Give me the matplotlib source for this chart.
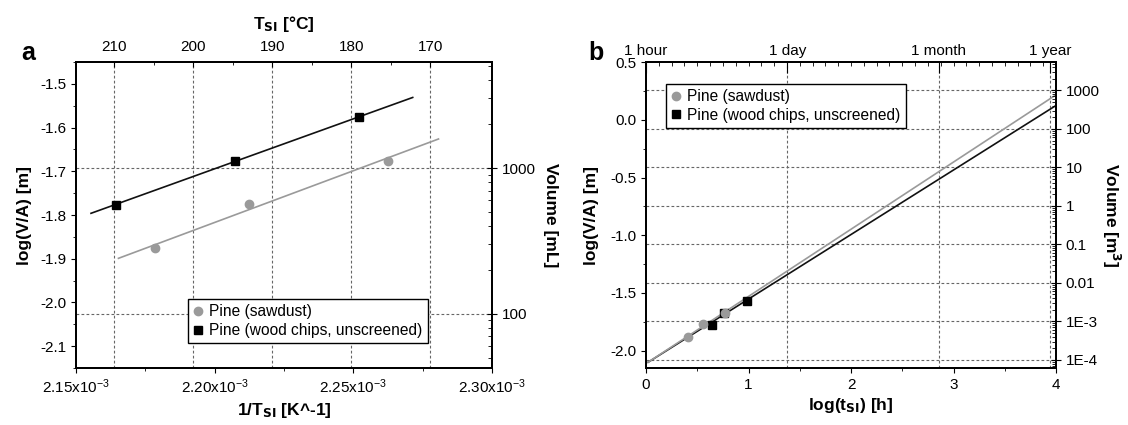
"""
Two-panel figure: self-ignition volume scaling for pine (sawdust vs wood chips).
a) log(V/A) against inverse self-ignition temperature.
b) log(V/A) against log of induction time.
"""

import matplotlib.pyplot as plt
import numpy as np
from matplotlib.ticker import FixedLocator, MultipleLocator, NullFormatter

plt.rcParams["font.family"] = ["Liberation Sans", "DejaVu Sans"]
plt.rcParams["axes.unicode_minus"] = False
plt.rcParams["mathtext.default"] = "regular"

# ---- panel a data -------------------------------------------------------
A_SAW_X = [2.1785e-3, 2.2124e-3, 2.2624e-3]
A_SAW_Y = [-1.876, -1.775, -1.676]
A_WOOD_X = [2.1644e-3, 2.2072e-3, 2.2521e-3]
A_WOOD_Y = [-1.776, -1.676, -1.576]
A_SAW_FIT_X = [2.1653e-3, 2.2807e-3]
A_SAW_FIT_Y = [-1.899, -1.626]
A_WOOD_FIT_X = [2.1554e-3, 2.2714e-3]
A_WOOD_FIT_Y = [-1.796, -1.531]
A_X_TICKS = [2.15e-3, 2.20e-3, 2.25e-3, 2.30e-3]
A_X_LABELS = ["2.15x10$^{-3}$", "2.20x10$^{-3}$", "2.25x10$^{-3}$", "2.30x10$^{-3}$"]
A_Y_TICKS = [-2.1, -2.0, -1.9, -1.8, -1.7, -1.6, -1.5]
A_T_TICKS = [210, 200, 190, 180, 170]
A_VOL_TICKS = [100, 1000]

# ---- panel b data -------------------------------------------------------
B_SAW_X = [0.41, 0.555, 0.767]
B_SAW_Y = [-1.878, -1.770, -1.674]
B_WOOD_X = [0.64, 0.76, 0.984]
B_WOOD_Y = [-1.776, -1.676, -1.573]
B_SAW_FIT_X = [0.02, 4.0]
B_SAW_FIT_Y = [-2.10, 0.216]
B_WOOD_FIT_X = [0.02, 4.0]
B_WOOD_FIT_Y = [-2.10, 0.124]
B_Y_TICKS = [-2.0, -1.5, -1.0, -0.5, 0.0, 0.5]
B_TIME_HOURS = [1, 24, 720, 8760]
B_TIME_LABELS = ["1 hour", "1 day", "1 month", "1 year"]
B_VOL_TICKS = [1e-4, 1e-3, 1e-2, 1e-1, 1, 10, 100, 1000]
B_VOL_LABELS = ["1E-4", "1E-3", "0.01", "0.1", "1", "10", "100", "1000"]

GRAY = "#9a9a9a"
GRID = dict(color="#666666", lw=0.8, ls=(0, (2.5, 2)), zorder=0)
BOLD = dict(fontsize=12.5, fontweight="bold")


# temperature axis of panel a is linear in 1/T position
def temp_to_x(t):
    return 2.1638e-3 + (210 - np.asarray(t, dtype=float)) * 2.85e-6


def a_vol(y):
    return 10 ** (3 * (np.asarray(y) + 1.6924) + 3)


def a_vol_inv(v):
    return (np.log10(v) - 3) / 3 - 1.6924


def b_vol(y):
    return 10 ** (3 * (np.asarray(y) + 0.746))


def b_vol_inv(v):
    return np.log10(v) / 3 - 0.746


def legend(ax, handles, labels, **kw):
    leg = ax.legend(handles, labels, fontsize=11.2, handlelength=0.6,
                    handletextpad=0.4, borderpad=0.35, labelspacing=0.25,
                    fancybox=False, framealpha=1, edgecolor="black", **kw)
    leg.get_frame().set_linewidth(1.0)


def panel_a(ax):
    ax.plot(A_WOOD_FIT_X, A_WOOD_FIT_Y, color="#111111", lw=1.2, zorder=2)
    ax.plot(A_SAW_FIT_X, A_SAW_FIT_Y, color=GRAY, lw=1.2, zorder=2)
    saw, = ax.plot(A_SAW_X, A_SAW_Y, "o", color=GRAY, ms=6, zorder=3)
    wood, = ax.plot(A_WOOD_X, A_WOOD_Y, "s", color="black", ms=6, zorder=3)

    ax.set_xlim(2.15e-3, 2.30e-3)
    ax.set_ylim(-2.15, -1.45)
    ax.set_xticks(A_X_TICKS)
    ax.set_xticklabels(A_X_LABELS)
    ax.xaxis.set_minor_locator(MultipleLocator(0.025e-3))
    ax.set_yticks(A_Y_TICKS)
    ax.set_yticklabels([f"{v:.1f}" for v in A_Y_TICKS])
    ax.yaxis.set_minor_locator(MultipleLocator(0.05))
    ax.tick_params(which="both", direction="out", top=False, right=False)
    ax.set_xlabel(r"1/T$_\mathbf{SI}$ [K^-1]", labelpad=3, **BOLD)
    ax.set_ylabel("log(V/A) [m]", labelpad=6, **BOLD)

    for x in temp_to_x(A_T_TICKS):
        ax.axvline(x, **GRID)
    for v in A_VOL_TICKS:
        ax.axhline(a_vol_inv(v), **GRID)

    top = ax.twiny()
    top.set_xlim(ax.get_xlim())
    top.set_xticks(temp_to_x(A_T_TICKS))
    top.set_xticklabels([str(t) for t in A_T_TICKS])
    top.xaxis.set_minor_locator(FixedLocator(temp_to_x(np.arange(215, 165, -10))))
    top.tick_params(which="both", direction="in", pad=6)
    top.set_xlabel(r"T$_\mathbf{SI}$ [°C]", labelpad=8, **BOLD)

    right = ax.twinx()
    right.set_yscale("log")
    right.set_ylim(a_vol(-2.15), a_vol(-1.45))
    right.set_yticks(A_VOL_TICKS)
    right.set_yticklabels([str(v) for v in A_VOL_TICKS])
    right.yaxis.set_minor_formatter(NullFormatter())
    right.tick_params(which="major", direction="inout", length=7)
    right.tick_params(which="minor", direction="in", length=3)
    right.set_ylabel("Volume [mL]", rotation=270, labelpad=16, **BOLD)

    legend(ax, [saw, wood], ["Pine (sawdust)", "Pine (wood chips, unscreened)"],
           loc="lower left", bbox_to_anchor=(0.25, 0.055))


def panel_b(ax):
    ax.plot(B_WOOD_FIT_X, B_WOOD_FIT_Y, color="#111111", lw=1.2, zorder=2)
    ax.plot(B_SAW_FIT_X, B_SAW_FIT_Y, color=GRAY, lw=1.2, zorder=2)
    wood, = ax.plot(B_WOOD_X, B_WOOD_Y, "s", color="black", ms=6, zorder=3)
    saw, = ax.plot(B_SAW_X, B_SAW_Y, "o", color=GRAY, ms=6, zorder=4)

    ax.set_xlim(0, 4)
    ax.set_ylim(-2.15, 0.5)
    ax.set_xticks([0, 1, 2, 3, 4])
    ax.xaxis.set_minor_locator(MultipleLocator(0.5))
    ax.set_yticks(B_Y_TICKS)
    ax.set_yticklabels([f"{v:.1f}" for v in B_Y_TICKS])
    ax.yaxis.set_minor_locator(MultipleLocator(0.25))
    ax.tick_params(which="both", direction="out", top=False, right=False)
    ax.set_xlabel(r"log(t$_\mathbf{SI}$) [h]", labelpad=3, **BOLD)
    ax.set_ylabel("log(V/A) [m]", labelpad=8, **BOLD)

    time_x = np.log10(B_TIME_HOURS)
    for x in time_x[1:]:
        ax.axvline(x, **GRID)
    for v in B_VOL_TICKS:
        ax.axhline(b_vol_inv(v), **GRID)

    top = ax.twiny()
    top.set_xlim(ax.get_xlim())
    top.set_xticks(time_x)
    top.set_xticklabels(B_TIME_LABELS)
    top.xaxis.set_minor_locator(MultipleLocator(0.125))
    top.tick_params(which="major", direction="in", length=8, pad=3)
    top.tick_params(which="minor", direction="in", length=3)

    right = ax.twinx()
    right.set_yscale("log")
    right.set_ylim(b_vol(-2.15), b_vol(0.5))
    right.set_yticks(B_VOL_TICKS)
    right.set_yticklabels(B_VOL_LABELS)
    right.yaxis.set_minor_formatter(NullFormatter())
    right.tick_params(which="major", direction="inout", length=7)
    right.tick_params(which="minor", direction="in", length=3)
    right.set_ylabel(r"Volume [m$^\mathbf{3}$]", rotation=270, labelpad=16,
                     **BOLD)

    legend(ax, [saw, wood], ["Pine (sawdust)", "Pine (wood chips, unscreened)"],
           loc="upper left", bbox_to_anchor=(0.03, 0.955))


def main():
    fig = plt.figure(figsize=(11.28, 4.25), dpi=100)
    ax_a = fig.add_axes([0.0674, 0.134, 0.3688, 0.72])
    ax_b = fig.add_axes([0.5727, 0.134, 0.3635, 0.72])

    panel_a(ax_a)
    panel_b(ax_b)

    for ax in fig.axes:
        for sp in ax.spines.values():
            sp.set_linewidth(1.2)
        ax.tick_params(labelsize=11)

    fig.text(0.025, 0.875, "a", fontsize=18, fontweight="bold",
             ha="center", va="center")
    fig.text(0.528, 0.875, "b", fontsize=18, fontweight="bold",
             ha="center", va="center")

    fig.savefig("out.png", dpi=100)


if __name__ == "__main__":
    main()
